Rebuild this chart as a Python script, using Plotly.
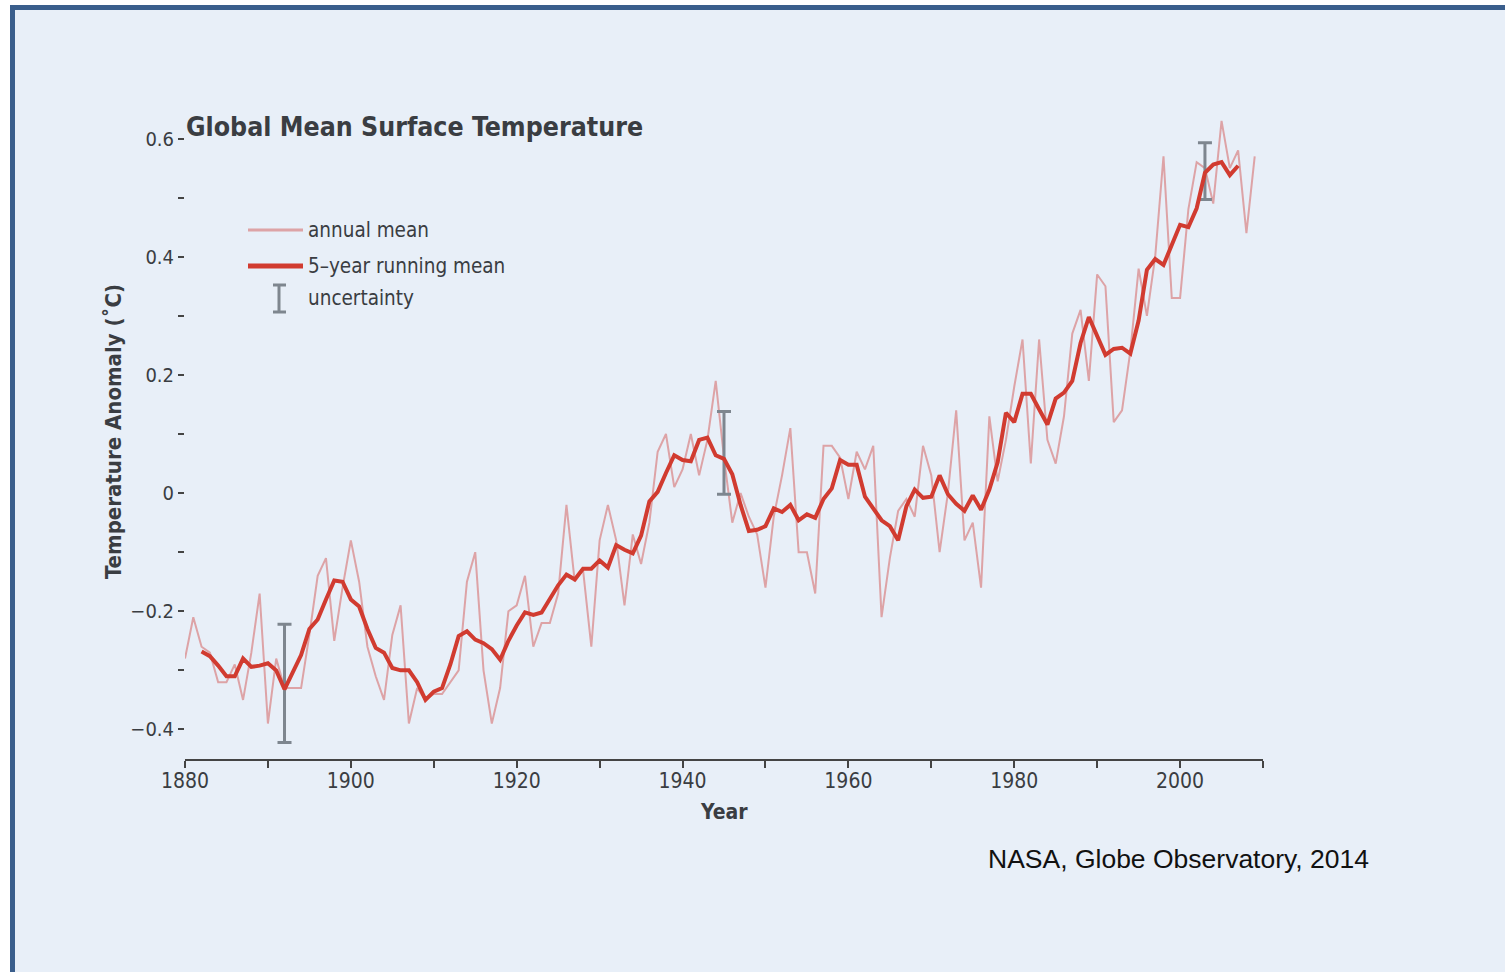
import plotly.graph_objects as go

# GISS global mean surface temperature anomaly (deg C)
years = list(range(1880, 2010))
annual_mean = [
    -0.28, -0.21, -0.26, -0.27, -0.32, -0.32, -0.29, -0.35, -0.27, -0.17,
    -0.39, -0.28, -0.33, -0.33, -0.33, -0.24, -0.14, -0.11, -0.25, -0.16,
    -0.08, -0.15, -0.26, -0.31, -0.35, -0.24, -0.19, -0.39, -0.33, -0.35,
    -0.34, -0.34, -0.32, -0.30, -0.15, -0.10, -0.30, -0.39, -0.33, -0.20,
    -0.19, -0.14, -0.26, -0.22, -0.22, -0.17, -0.02, -0.15, -0.13, -0.26,
    -0.08, -0.02, -0.08, -0.19, -0.07, -0.12, -0.05, 0.07, 0.10, 0.01,
    0.04, 0.10, 0.03, 0.09, 0.19, 0.06, -0.05, 0.00, -0.04, -0.07,
    -0.16, -0.04, 0.03, 0.11, -0.10, -0.10, -0.17, 0.08, 0.08, 0.06,
    -0.01, 0.07, 0.04, 0.08, -0.21, -0.11, -0.03, -0.01, -0.04, 0.08,
    0.03, -0.10, 0.00, 0.14, -0.08, -0.05, -0.16, 0.13, 0.02, 0.09,
    0.18, 0.26, 0.05, 0.26, 0.09, 0.05, 0.13, 0.27, 0.31, 0.19,
    0.37, 0.35, 0.12, 0.14, 0.24, 0.38, 0.30, 0.40, 0.57, 0.33,
    0.33, 0.48, 0.56, 0.55, 0.49, 0.63, 0.55, 0.58, 0.44, 0.57,
]

run_years = list(range(1882, 2008))
running_mean = [
    -0.268, -0.276, -0.292, -0.310, -0.310, -0.280, -0.294, -0.292, -0.288, -0.300,
    -0.332, -0.302, -0.274, -0.230, -0.214, -0.180, -0.148, -0.150, -0.180, -0.192,
    -0.230, -0.262, -0.270, -0.296, -0.300, -0.300, -0.320, -0.350, -0.336, -0.330,
    -0.290, -0.242, -0.234, -0.248, -0.254, -0.264, -0.282, -0.250, -0.224, -0.202,
    -0.206, -0.202, -0.178, -0.156, -0.138, -0.146, -0.128, -0.128, -0.114, -0.126,
    -0.088, -0.096, -0.102, -0.072, -0.014, 0.002, 0.034, 0.064, 0.056, 0.054,
    0.090, 0.094, 0.064, 0.058, 0.032, -0.020, -0.064, -0.062, -0.056, -0.026,
    -0.032, -0.020, -0.046, -0.036, -0.042, -0.010, 0.008, 0.056, 0.048, 0.048,
    -0.006, -0.026, -0.046, -0.056, -0.080, -0.022, 0.006, -0.008, -0.006, 0.030,
    -0.002, -0.018, -0.030, -0.004, -0.028, 0.006, 0.052, 0.136, 0.120, 0.168,
    0.168, 0.142, 0.116, 0.160, 0.170, 0.190, 0.254, 0.298, 0.268, 0.234,
    0.244, 0.246, 0.236, 0.292, 0.378, 0.396, 0.386, 0.422, 0.454, 0.450,
    0.482, 0.542, 0.556, 0.560, 0.538, 0.554,
]

# uncertainty bars: year, centre, half-width
unc_years = [1892, 1945, 2003]
unc_center = [-0.322, 0.068, 0.545]
unc_half = [0.100, 0.070, 0.048]

x_ticks = [1880, 1900, 1920, 1940, 1960, 1980, 2000]
y_ticks = [-0.4, -0.2, 0.0, 0.2, 0.4, 0.6]
y_tick_text = ["\u22120.4", "\u22120.2", "0", "0.2", "0.4", "0.6"]

W, H = 1505, 972
L, R, T, B = 185, 242, 109, 213
PW, PH = W - L - R, H - T - B

BG = "#e8eff8"
FRAME = "#3a5e8c"
ANNUAL = "rgba(214,112,112,0.60)"
RUNNING = "#d13b30"
UNC = "#7e868f"
TXT = "#3a3d42"
FONT = "DejaVu Sans Condensed, Liberation Sans Narrow, DejaVu Sans, sans-serif"


def px(xp):
    return (xp - L) / PW


def py(yp):
    return (T + PH - yp) / PH


fig = go.Figure()

fig.add_trace(go.Scatter(
    x=years, y=annual_mean, mode="lines",
    line=dict(color=ANNUAL, width=2), name="annual mean", showlegend=False,
))
fig.add_trace(go.Scatter(
    x=unc_years, y=unc_center, mode="markers",
    marker=dict(size=1, opacity=0),
    error_y=dict(type="data", array=unc_half, color=UNC, thickness=3, width=7),
    name="uncertainty", showlegend=False,
))
fig.add_trace(go.Scatter(
    x=run_years, y=running_mean, mode="lines",
    line=dict(color=RUNNING, width=4), name="5\u2013year running mean",
    showlegend=False,
))

shapes = [
    # page frame
    dict(type="rect", xref="paper", yref="paper",
         x0=px(12.5), x1=px(1530), y0=py(7.5), y1=py(1000),
         line=dict(color=FRAME, width=5), fillcolor=BG, layer="below"),
    # legend samples
    dict(type="line", xref="paper", yref="paper",
         x0=px(248), x1=px(303), y0=py(230), y1=py(230),
         line=dict(color=ANNUAL, width=3)),
    dict(type="line", xref="paper", yref="paper",
         x0=px(248), x1=px(303), y0=py(266), y1=py(266),
         line=dict(color=RUNNING, width=5)),
    dict(type="line", xref="paper", yref="paper",
         x0=px(279), x1=px(279), y0=py(285), y1=py(312),
         line=dict(color=UNC, width=3)),
    dict(type="line", xref="paper", yref="paper",
         x0=px(273), x1=px(286), y0=py(285), y1=py(285),
         line=dict(color=UNC, width=3)),
    dict(type="line", xref="paper", yref="paper",
         x0=px(273), x1=px(286), y0=py(312), y1=py(312),
         line=dict(color=UNC, width=3)),
]

annotations = [
    dict(text="<b>Global Mean Surface Temperature</b>", xref="paper", yref="paper",
         x=px(184), y=py(126), xanchor="left", yanchor="middle", showarrow=False,
         font=dict(family=FONT, size=26.5, color=TXT)),
    dict(text="annual mean", xref="paper", yref="paper",
         x=px(306), y=py(230), xanchor="left", yanchor="middle", showarrow=False,
         font=dict(family=FONT, size=20.5, color=TXT)),
    dict(text="5\u2013year running mean", xref="paper", yref="paper",
         x=px(306), y=py(266), xanchor="left", yanchor="middle", showarrow=False,
         font=dict(family=FONT, size=20.5, color=TXT)),
    dict(text="uncertainty", xref="paper", yref="paper",
         x=px(306), y=py(298), xanchor="left", yanchor="middle", showarrow=False,
         font=dict(family=FONT, size=20.5, color=TXT)),
    dict(text="<b>Temperature Anomaly (\u02daC)</b>", xref="paper", yref="paper",
         x=px(113), y=py(432), xanchor="center", yanchor="middle", textangle=-90,
         showarrow=False, font=dict(family=FONT, size=22, color=TXT)),
    dict(text="<b>Year</b>", xref="paper", yref="paper",
         x=px(724), y=py(812), xanchor="center", yanchor="middle", showarrow=False,
         font=dict(family=FONT, size=21, color=TXT)),
    dict(text="NASA, Globe Observatory, 2014", xref="paper", yref="paper",
         x=px(986), y=py(859), xanchor="left", yanchor="middle", showarrow=False,
         font=dict(family="Liberation Sans, Arial, sans-serif", size=26.5, color="#111111")),
]

fig.update_layout(
    width=W, height=H,
    margin=dict(l=L, r=R, t=T, b=B, pad=0),
    paper_bgcolor="white",
    plot_bgcolor="rgba(0,0,0,0)",
    showlegend=False,
    shapes=shapes,
    annotations=annotations,
    font=dict(family=FONT, color=TXT),
)

fig.update_xaxes(
    range=[1880, 2010], showgrid=False, zeroline=False,
    showline=True, linecolor="#444444", linewidth=2,
    tickmode="array", tickvals=x_ticks, ticktext=[str(v) for v in x_ticks],
    ticks="outside", ticklen=7, tickwidth=1.5, tickcolor="#444444",
    ticklabelstandoff=-5,
    minor=dict(ticks="outside", dtick=10, tick0=1880, ticklen=7, tickwidth=1.5,
               tickcolor="#444444", showgrid=False),
    tickfont=dict(family=FONT, size=21, color=TXT),
)

fig.update_yaxes(
    range=[-0.45, 0.65], showgrid=False, zeroline=False, showline=False,
    tickmode="array", tickvals=y_ticks, ticktext=y_tick_text,
    ticks="outside", ticklen=6, tickwidth=1.5, tickcolor="#444444",
    minor=dict(ticks="outside", dtick=0.1, tick0=0, ticklen=6, tickwidth=1.5,
               tickcolor="#444444", showgrid=False),
    tickfont=dict(family=FONT, size=20, color=TXT),
)

fig.write_html("out.html")
